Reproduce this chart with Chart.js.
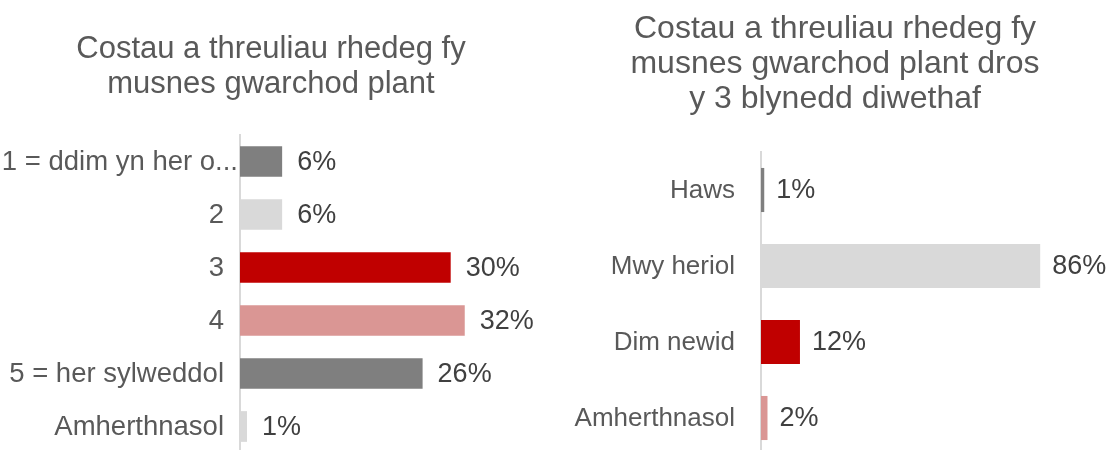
<!DOCTYPE html>
<html>
<head>
<meta charset="utf-8">
<script src="https://cdn.jsdelivr.net/npm/chart.js@4/dist/chart.umd.min.js"></script>
<style>
  body { margin: 0; width: 1110px; height: 450px; overflow: hidden; background: #fff; position: relative; }
  canvas { position: absolute; top: 0; }
</style>
</head>
<body>
<canvas id="chart1" width="542" height="460" style="left:0"></canvas>
<canvas id="chart2" width="550" height="460" style="left:560px"></canvas>
<script>
const labels1 = ['1 = ddim yn her o...', '2', '3', '4', '5 = her sylweddol', 'Amherthnasol'];
const values1 = [6, 6, 30, 32, 26, 1];
const colors1 = ['#7f7f7f', '#d9d9d9', '#c00000', '#da9694', '#7f7f7f', '#d9d9d9'];

const labels2 = ['Haws', 'Mwy heriol', 'Dim newid', 'Amherthnasol'];
const values2 = [1, 86, 12, 2];
const colors2 = ['#7f7f7f', '#d9d9d9', '#c00000', '#da9694'];

const FONT = "'Liberation Sans', Arial, sans-serif";

// category names left of the axis; a name too long for the space runs up to the axis, like the original
const axisLabels = {
    id: 'axisLabels',
    afterDraw(chart, args, opts) {
        const c = chart.ctx;
        const scale = chart.scales.y;
        c.save();
        c.font = opts.size + 'px ' + FONT;
        c.fillStyle = '#595959';
        c.textAlign = 'right';
        c.textBaseline = 'middle';
        chart.data.labels.forEach((lab, i) => {
            let x = chart.chartArea.left - opts.pad;
            if (x - c.measureText(lab).width < 3) x = chart.chartArea.left - 2;
            c.fillText(lab, x, scale.getPixelForTick(i) + 1);
        });
        c.restore();
    }
};

// percent labels at the end of each bar
const barLabels = {
    id: 'barLabels',
    afterDatasetsDraw(chart, args, opts) {
        const c = chart.ctx;
        const meta = chart.getDatasetMeta(0);
        c.save();
        c.font = opts.size + 'px ' + FONT;
        c.fillStyle = '#404040';
        c.textAlign = 'left';
        c.textBaseline = 'middle';
        meta.data.forEach((bar, i) => {
            const v = chart.data.datasets[0].data[i];
            c.fillText(v + '%', bar.x + opts.gap, bar.y + 1);
        });
        c.restore();
    }
};

function makeChart(id, labels, values, colors, cfg) {
    return new Chart(document.getElementById(id), {
        type: 'bar',
        data: {
            labels: labels,
            datasets: [{
                data: values,
                backgroundColor: colors,
                barPercentage: 0.58,
                categoryPercentage: 1
            }]
        },
        options: {
            indexAxis: 'y',
            responsive: false,
            animation: false,
            layout: { padding: { left: 0, right: 0, top: 0, bottom: cfg.padBottom } },
            plugins: {
                legend: { display: false },
                tooltip: { enabled: false },
                title: {
                    display: true,
                    text: cfg.title,
                    color: '#595959',
                    font: { family: FONT, size: cfg.titleSize, weight: 'normal', lineHeight: 35 / cfg.titleSize },
                    padding: { top: cfg.titleTop, bottom: cfg.titleBottom }
                },
                axisLabels: { size: cfg.tickSize, pad: cfg.tickPad },
                barLabels: { size: cfg.valueSize, gap: cfg.gap }
            },
            scales: {
                x: { display: false, min: 0, max: cfg.xMax },
                y: {
                    afterFit: s => {
                        s.width = cfg.axisWidth;
                        s.paddingTop = 0;
                        s.paddingBottom = 0;
                    },
                    grid: { display: false },
                    border: { display: true, color: '#d9d9d9', width: 2 },
                    ticks: { display: false }
                }
            }
        },
        plugins: [axisLabels, barLabels]
    });
}

makeChart('chart1', labels1, values1, colors1, {
    title: ['Costau a threuliau rhedeg fy', 'musnes gwarchod plant'],
    titleSize: 31, titleTop: 31.5, titleBottom: 33.5,
    padBottom: 7, axisWidth: 240, xMax: 43, tickPad: 16, tickSize: 27.5, valueSize: 27, gap: 15
});

makeChart('chart2', labels2, values2, colors2, {
    title: ['Costau a threuliau rhedeg fy', 'musnes gwarchod plant dros', 'y 3 blynedd diwethaf'],
    titleSize: 32, titleTop: 11.5, titleBottom: 35.5,
    padBottom: 4, axisWidth: 201, xMax: 107.5, tickPad: 26, tickSize: 26, valueSize: 27, gap: 12
});
</script>
</body>
</html>
